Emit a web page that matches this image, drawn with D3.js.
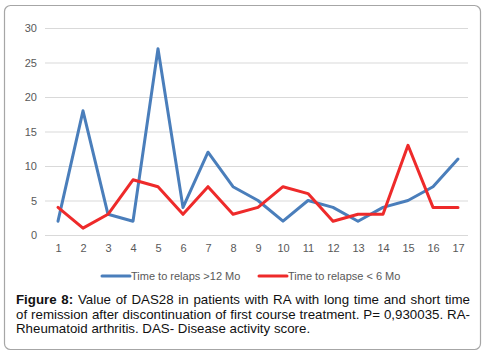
<!DOCTYPE html>
<html>
<head>
<meta charset="utf-8">
<script src="https://cdn.jsdelivr.net/npm/d3@7"></script>
<style>
body { margin: 0; background: #fff; }
#caption {
    position: absolute; left: 16px; top: 293px; width: 454px;
    font-family: "Liberation Sans", Arial, sans-serif; font-size: 13.3px;
    line-height: 14.6px; text-align: justify; color: #111;
}
</style>
</head>
<body>
<svg id="chart" width="483" height="352" style="position:absolute;left:0;top:0"></svg>
<div id="caption"><b>Figure 8:</b> Value of DAS28 in patients with RA with long time and short time of remission after discontinuation of first course treatment. P= 0,930035. RA-Rheumatoid arthritis. DAS- Disease activity score.</div>
<script>
var patients = d3.range(1, 18);
var longRelapse = [2, 18, 3, 2, 27, 4, 12, 7, 5, 2, 5, 4, 2, 4, 5, 7, 11];
var shortRelapse = [4, 1, 3, 8, 7, 3, 7, 3, 4, 7, 6, 2, 3, 3, 13, 4, 4];
var yTicks = [0, 5, 10, 15, 20, 25, 30];
var seriesNames = ["Time to relaps >12 Mo", "Time to relapse < 6 Mo"];
var seriesColors = ["#4a7ebb", "#ee2a2a"];

var svg = d3.select("#chart");

// frame
svg.append("rect")
    .attr("x", 4.5).attr("y", 5.5)
    .attr("width", 476).attr("height", 344)
    .attr("rx", 6)
    .style("fill", "none")
    .style("stroke", "#a6a6a6")
    .style("stroke-width", 1.2);

var x = d3.scalePoint()
    .domain(patients)
    .range([58, 458]);
var y = d3.scaleLinear()
    .domain([0, 30])
    .range([235, 28]);

// grid
svg.append("g").selectAll("line").data(yTicks).enter().append("line")
    .attr("x1", 45).attr("x2", 468)
    .attr("y1", function(d) { return y(d) + 0.5; })
    .attr("y2", function(d) { return y(d) + 0.5; })
    .style("stroke", "#d9d9d9")
    .style("stroke-width", 1);

var yAxis = svg.append("g")
    .attr("transform", "translate(37,0)")
    .call(d3.axisLeft(y).tickValues(yTicks).tickSize(0).tickPadding(0));
yAxis.select(".domain").remove();

var xAxis = svg.append("g")
    .attr("transform", "translate(0,244)")
    .call(d3.axisBottom(x).tickSize(0).tickPadding(0));
xAxis.select(".domain").remove();

svg.selectAll(".tick text")
    .style("font-family", "'Liberation Sans', Arial, sans-serif")
    .style("font-size", "11px")
    .style("fill", "#595959");

var line = d3.line()
    .x(function(d, i) { return x(patients[i]); })
    .y(function(d) { return y(d); });

[longRelapse, shortRelapse].forEach(function(vals, k) {
    svg.append("path")
        .datum(vals)
        .attr("d", line)
        .style("fill", "none")
        .style("stroke", seriesColors[k])
        .style("stroke-width", 3)
        .style("stroke-linejoin", "round")
        .style("stroke-linecap", "round");
});

// legend
var legendX = [102, 259];
seriesNames.forEach(function(name, k) {
    var g = svg.append("g").attr("transform", "translate(" + legendX[k] + ",276)");
    g.append("line")
        .attr("x1", 0).attr("x2", 28)
        .style("stroke", seriesColors[k])
        .style("stroke-width", 3)
        .style("stroke-linecap", "round");
    g.append("text")
        .attr("x", 29).attr("y", 4)
        .style("font-family", "'Liberation Sans', Arial, sans-serif")
        .style("font-size", "11px")
        .style("fill", "#595959")
        .text(name);
});
</script>
</body>
</html>
